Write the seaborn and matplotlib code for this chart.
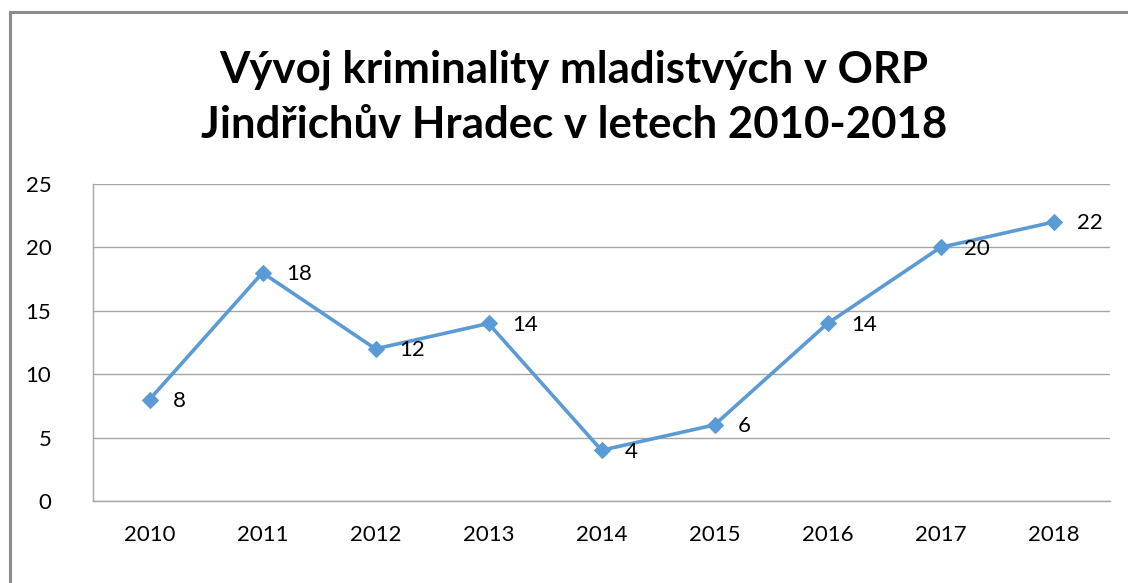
import matplotlib

matplotlib.use("Agg")
import matplotlib.pyplot as plt
import pandas as pd
import seaborn as sns
from matplotlib.patches import Rectangle

years = ["2010", "2011", "2012", "2013", "2014", "2015", "2016", "2017", "2018"]
counts = [8, 18, 12, 14, 4, 6, 14, 20, 22]
title_lines = ["Vývoj kriminality mladistvých v ORP", "Jindřichův Hradec v letech 2010-2018"]

W, H = 1128, 583
sns.set_theme(style="white")
plt.rcParams["font.family"] = ["Lato", "DejaVu Sans"]
plt.rcParams["text.color"] = "black"

df = pd.DataFrame({"year": years, "count": counts})

fig = plt.figure(figsize=(W / 100, H / 100), dpi=100)
ax = fig.add_axes([93 / W, 1 - 501 / H, (1110 - 93) / W, (501 - 184) / H])

blue = "#5B9BD5"
sns.lineplot(data=df, x="year", y="count", ax=ax, color=blue, lw=2.6,
             marker="D", markersize=8, markeredgecolor=blue, sort=False)

for i, v in enumerate(counts):
    ax.annotate(str(v), (i, v), xytext=(17, -1), textcoords="offset points",
                ha="left", va="center", fontsize=16, color="black")

ax.set_xlim(-0.5, len(years) - 0.5)
ax.set_ylim(0, 25)
ax.set_yticks(range(0, 26, 5))
ax.yaxis.grid(True, color="#a6a6a6", lw=1)
ax.set_axisbelow(True)
ax.set_xlabel("")
ax.set_ylabel("")
for side in ("top", "right"):
    ax.spines[side].set_visible(False)
for side in ("left", "bottom"):
    ax.spines[side].set_color("#a6a6a6")
    ax.spines[side].set_linewidth(1)
ax.tick_params(axis="both", length=0, labelsize=16, labelcolor="black")
ax.tick_params(axis="y", pad=30)
ax.tick_params(axis="x", pad=17)

fig.text(574 / W, 1 - 70 / H, title_lines[0], ha="center", va="center",
         fontsize=31.5, fontweight="bold", color="black")
fig.text(574 / W, 1 - 125 / H, title_lines[1], ha="center", va="center",
         fontsize=31.5, fontweight="bold", color="black")

# chart frame (only the left and top edges fall inside the picture)
fig.patches.append(Rectangle((10 / W, -0.1), 1.2, 1 - 12.5 / H + 0.1,
                             transform=fig.transFigure, fill=False,
                             edgecolor="#8c8c8c", lw=2.2))

fig.savefig("out.png", dpi=100)
